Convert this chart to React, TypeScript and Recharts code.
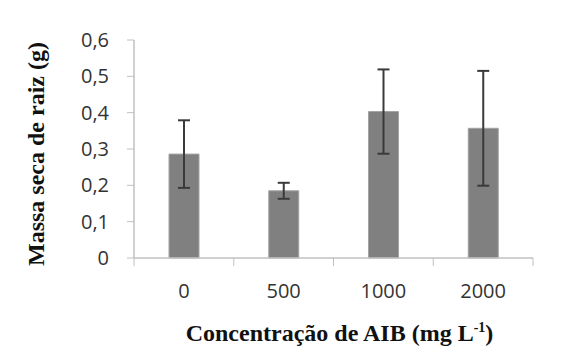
import { BarChart, Bar, XAxis, YAxis, ErrorBar, Label } from 'recharts';

const concentracoes = ['0', '500', '1000', '2000'];
const massaSeca = [0.286, 0.185, 0.403, 0.357];
const desvio = [0.093, 0.022, 0.116, 0.158];
const yTicks = [0, 0.1, 0.2, 0.3, 0.4, 0.5, 0.6];

const data = concentracoes.map((c, i) => ({ conc: c, massa: massaSeca[i], erro: desvio[i] }));

const axisColor = '#c0c0c0';
const tickFont = { fill: '#333', fontSize: 20, fontFamily: '"Open Sans", sans-serif' };
const titleFont = { fontFamily: '"Liberation Serif", serif', fontWeight: 700, fontSize: 24, fill: '#111' };
const X_TICK_MARGIN = 26;

// category label + tick marks on the band edges (like Excel)
const XTick = (props: any) => {
  const { x, y, payload, index, visibleTicksCount } = props;
  const half = payload.offset || 0;
  const axisY = y - X_TICK_MARGIN;
  const last = index === visibleTicksCount - 1;
  return (
    <g>
      <line x1={x - half} x2={x - half} y1={axisY} y2={axisY + 8} stroke={axisColor} />
      {last && <line x1={x + half} x2={x + half} y1={axisY} y2={axisY + 8} stroke={axisColor} />}
      <text x={x} y={y} dy="0.71em" textAnchor="middle" {...tickFont}>
        {payload.value}
      </text>
    </g>
  );
};

const YTitle = (props: any) => {
  const vb = props.viewBox || { x: 0, y: 0, height: 0 };
  const x = 44;
  const y = vb.y + vb.height / 2 + 5;
  return (
    <text x={x} y={y} textAnchor="middle" transform={`rotate(-90, ${x}, ${y})`} {...titleFont}>
      Massa seca de raiz (g)
    </text>
  );
};

const XTitle = (props: any) => {
  const vb = props.viewBox || { x: 0, y: 0, width: 0 };
  return (
    <text x={vb.x + vb.width / 2 + 6} y={vb.y + 83} textAnchor="middle" {...titleFont}>
      Concentração de AIB (mg L
      <tspan fontSize={14} dy={-9}>-1</tspan>
      <tspan dy={9}>)</tspan>
    </text>
  );
};

export default function App() {
  return (
    <div style={{ position: 'absolute', left: 0, top: 0, background: '#fff' }}>
      <BarChart
        width={579}
        height={359}
        data={data}
        margin={{ top: 40, right: 46, bottom: 41, left: 0 }}
        barSize={30}
      >
        <XAxis
          dataKey="conc"
          height={60}
          axisLine={{ stroke: axisColor, strokeWidth: 1.5 }}
          tickLine={false}
          tickSize={0}
          tickMargin={X_TICK_MARGIN}
          tick={XTick}
          interval={0}
        >
          <Label content={XTitle} />
        </XAxis>
        <YAxis
          width={134}
          domain={[0, 0.6]}
          ticks={yTicks}
          interval={0}
          axisLine={{ stroke: axisColor, strokeWidth: 1.5 }}
          tickLine={{ stroke: axisColor }}
          tickSize={7}
          tickMargin={18}
          tick={tickFont}
          tickFormatter={(v: number) => (v === 0 ? '0' : v.toFixed(1).replace('.', ','))}
        >
          <Label content={YTitle} />
        </YAxis>
        <Bar
          dataKey="massa"
          fill="#808080"
          stroke="#a3a3a3"
          strokeWidth={1}
          isAnimationActive={false}
        >
          <ErrorBar dataKey="erro" width={6} stroke="#3a3a3a" strokeWidth={2} direction="y" />
        </Bar>
      </BarChart>
    </div>
  );
}
